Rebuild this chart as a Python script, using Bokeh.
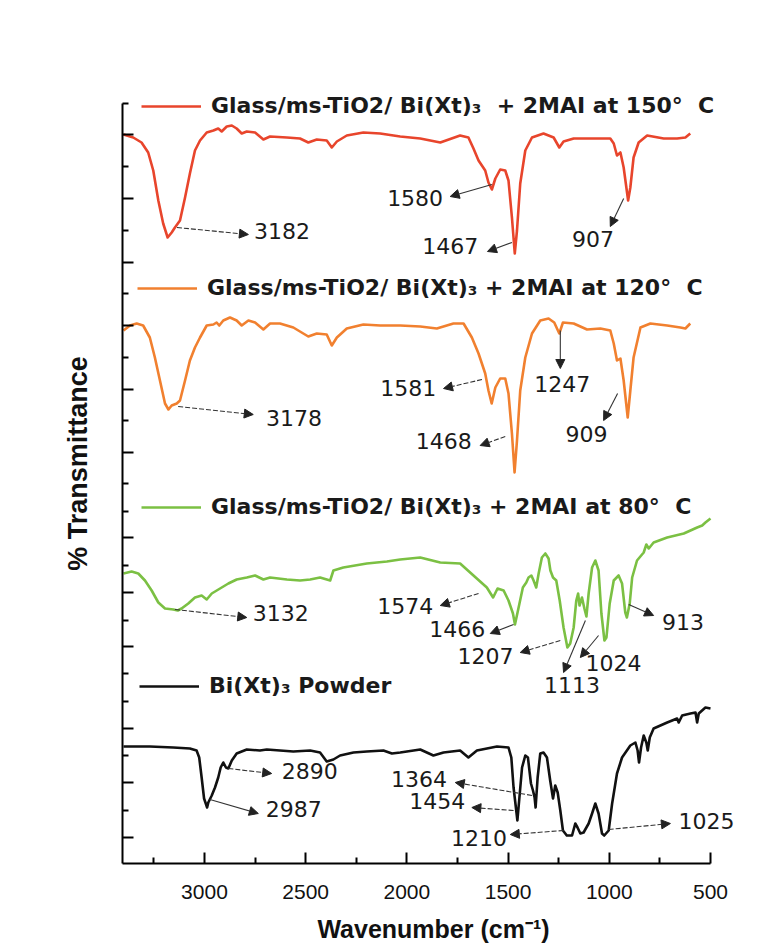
from bokeh.plotting import figure
from bokeh.models import (Range1d, FixedTicker, Label, Arrow, NormalHead,
                          Legend, LegendItem, ColumnDataSource, CustomJSTickFormatter)
from bokeh.embed import file_html
from bokeh.resources import INLINE

# ---------------- data (wavenumber cm-1, transmittance a.u. incl. offset) -------------
red_wn = [3400,3352,3311,3278,3253,3228,3204,3182,3162,3146,3121,3096,3072,3047,3022,2989,2956,2932,2915,2890,
          2865,2841,2816,2791,2750,2709,2676,2593,2528,2487,2445,2396,2371,2346,2297,2215,2132,2033,1934,1835,
          1737,1696,1671,1646,1613,1597,1580,1563,1539,1514,1498,1481,1467,1456,1440,1415,1382,1325,1275,1247,
          1226,1176,1077,995,978,962,945,929,907,896,880,855,813,731,665,624,600]
red_t = [72.9,72.6,72.1,71.1,69.3,66.3,64.0,62.6,63.1,63.6,64.3,66.6,69.0,71.3,72.3,73.1,73.3,73.5,73.2,73.7,
         73.8,73.5,73.0,73.2,73.1,72.4,72.7,72.6,72.5,72.1,72.4,72.3,71.6,72.2,72.8,73.1,73.0,72.7,72.5,72.1,
         72.8,72.6,71.5,70.3,69.3,68.1,67.4,68.5,69.4,69.3,68.3,64.6,61.0,63.3,68.0,71.3,72.6,73.0,72.6,71.6,
         72.2,72.5,72.5,72.5,72.0,70.8,71.1,69.6,66.3,67.6,70.6,72.1,72.8,72.5,72.5,72.6,73.0]

orange_wn = [3400,3368,3335,3303,3270,3245,3220,3195,3178,3162,3137,3121,3096,3072,3047,3022,2989,2956,2940,2927,
             2907,2874,2841,2816,2783,2750,2709,2676,2627,2561,2487,2445,2396,2371,2346,2297,2215,2132,2033,1934,
             1852,1770,1720,1679,1646,1613,1597,1581,1563,1539,1514,1498,1481,1468,1456,1440,1415,1382,1341,1300,
             1272,1247,1229,1176,1110,1044,995,978,962,945,929,909,896,880,846,797,714,649,624,600]
orange_t = [53.3,53.8,54.0,53.8,52.6,50.6,48.3,46.0,45.4,45.8,46.0,46.3,48.3,50.3,51.6,52.6,53.8,53.9,54.1,53.8,
            54.3,54.6,54.3,53.8,54.3,54.1,53.4,54.0,54.0,53.6,52.7,53.0,52.9,51.8,52.6,53.5,53.9,53.8,53.8,53.7,
            53.5,54.0,54.0,52.6,51.0,49.0,47.3,46.0,47.6,48.5,48.5,47.0,43.0,39.1,42.3,47.3,50.6,53.0,54.3,54.5,
            54.1,53.0,54.1,54.0,53.4,53.5,53.3,52.0,50.3,50.5,48.3,44.6,47.3,50.6,53.6,54.0,53.8,53.6,53.5,54.0]

green_wn = [3400,3360,3327,3294,3261,3228,3195,3154,3132,3113,3080,3047,3014,2989,2964,2923,2882,2841,2791,2750,
            2709,2676,2593,2528,2478,2429,2379,2363,2314,2198,2099,2033,1934,1835,1737,1671,1605,1574,1552,1522,
            1498,1476,1466,1448,1427,1410,1399,1385,1374,1361,1349,1333,1316,1300,1291,1278,1262,1245,1226,1207,
            1193,1176,1163,1154,1147,1135,1123,1113,1102,1085,1069,1053,1039,1024,1014,998,978,954,937,921,
            913,899,887,863,830,817,805,781,714,632,566,541,525,500]
green_t = [29.0,29.2,29.0,28.3,27.3,26.1,25.5,25.4,25.3,25.5,26.0,26.6,26.8,26.4,27.0,27.5,28.0,28.4,28.6,28.8,
           28.4,28.6,28.4,28.3,28.4,28.6,28.3,29.3,29.6,30.0,30.2,30.4,30.6,30.1,30.0,28.8,27.6,26.6,27.5,27.3,
           26.3,25.0,23.9,25.6,27.6,28.1,28.6,28.8,28.3,27.6,29.0,30.6,31.0,30.5,29.3,28.6,28.3,26.3,23.6,21.6,
           22.0,23.6,26.3,27.0,25.8,26.6,25.5,24.7,27.0,29.6,30.3,29.3,25.0,22.3,22.6,26.0,28.3,28.8,28.0,25.1,
           24.6,26.0,28.6,30.3,31.1,31.9,31.5,32.1,32.6,33.0,33.6,33.8,34.1,34.5]

black_wn = [3400,3270,3154,3072,3039,3026,3014,3002,2987,2981,2964,2948,2932,2920,2907,2894,2882,2865,2841,2791,
            2726,2692,2627,2561,2478,2429,2396,2363,2330,2264,2198,2116,2074,2033,1934,1869,1819,1737,1696,1654,
            1555,1498,1484,1473,1454,1444,1431,1415,1402,1387,1377,1369,1364,1354,1341,1325,1308,1292,1278,1267,
            1255,1242,1229,1210,1184,1168,1157,1143,1127,1102,1085,1069,1053,1036,1025,1003,986,962,937,896,
            871,860,853,843,830,817,810,800,781,714,665,657,640,599,574,566,558,525,500]
black_t = [11.7,11.7,11.6,11.5,11.3,10.6,8.6,6.5,5.6,6.1,6.8,7.6,8.6,9.6,10.1,9.6,9.5,10.3,11.0,11.4,
           11.3,11.4,11.3,11.2,11.3,11.1,10.2,10.4,10.8,11.1,11.2,11.3,11.0,11.1,11.4,10.8,11.1,11.3,10.6,11.3,
           11.7,11.6,10.6,7.6,4.3,6.6,9.6,10.8,10.6,8.0,7.3,6.6,5.6,8.6,11.0,11.1,10.6,8.3,6.5,7.8,
           7.1,5.3,3.3,2.8,2.8,4.0,3.6,3.0,3.1,4.0,5.0,6.0,5.0,3.0,2.8,3.3,6.0,9.0,10.6,11.8,
           12.1,11.3,10.1,11.6,12.8,12.1,11.3,12.6,13.5,14.1,14.5,14.1,14.8,15.0,15.1,14.1,15.0,15.6,15.5]

series_names = ["Glass/ms-TiO2/ Bi(Xt)\u2083  + 2MAI at 150\u00b0  C",
                "Glass/ms-TiO2/ Bi(Xt)\u2083 + 2MAI at 120\u00b0  C",
                "Glass/ms-TiO2/ Bi(Xt)\u2083 + 2MAI at 80\u00b0  C",
                "Bi(Xt)\u2083 Powder"]

x_major = [3000, 2500, 2000, 1500, 1000, 500]
x_minor = [3250, 2750, 2250, 1750, 1250, 750]

# peak labels: (text, peak wavenumber, transmittance at arrow start)
peak_labels = [
    ("3182", 3136, 63.6), ("1580", 1580, 67.9), ("1467", 1481, 62.1), ("907", 929, 66.5),
    ("3178", 3130, 45.7), ("1581", 1629, 48.4), ("1247", 1242, 53.3), ("1468", 1514, 42.7), ("909", 959, 47.0),
    ("3132", 3146, 25.4), ("1574", 1646, 27.0), ("1466", 1473, 23.9), ("1207", 1242, 22.3),
    ("1113", 1118, 24.3), ("1024", 1053, 22.8), ("913", 904, 25.9),
    ("2890", 2882, 9.5), ("2987", 2973, 6.4), ("1364", 1382, 6.8), ("1454", 1473, 5.3),
    ("1210", 1226, 3.3), ("1025", 1003, 3.4),
]

# ---------------- layout / style -------------
# per label: arrow end (x, y), text anchor (x, y), alignment, dashed
label_layout = [
    (2783, 62.9, 2755, 63.3, "left", True), (1786, 66.7, 1821, 66.6, "right", False),
    (1602, 61.2, 1648, 61.8, "right", False), (995, 63.7, 1081, 62.5, "center", False),
    (2759, 44.9, 2696, 44.55, "left", True), (1819, 47.5, 1855, 47.6, "right", True),
    (1242, 49.5, 1232, 48.0, "center", False), (1638, 41.8, 1679, 42.3, "right", True),
    (1028, 44.3, 1113, 43.0, "center", False),
    (2791, 24.6, 2762, 25.1, "left", True), (1835, 25.8, 1870, 25.8, "right", True),
    (1588, 23.0, 1613, 23.5, "right", False), (1440, 21.1, 1473, 20.8, "right", True),
    (1226, 19.1, 1184, 17.9, "center", False), (1143, 20.6, 1118, 20.1, "left", False),
    (781, 24.8, 739, 24.2, "left", False),
    (2668, 9.0, 2618, 9.3, "left", True), (2734, 5.0, 2697, 5.5, "left", False),
    (1761, 8.1, 1802, 8.5, "right", True), (1679, 5.6, 1712, 6.3, "right", True),
    (1489, 2.9, 1506, 2.6, "right", True), (698, 4.0, 658, 4.3, "left", True),
]

y_major = [72.9, 66.5, 60.1, 53.8, 47.4, 41.1, 32.6, 27.1, 21.7, 13.5, 8.1, 2.6]
y_minor = [76.0, 69.7, 63.3, 57.0, 50.6, 44.3, 38.0, 35.2, 29.8, 24.3, 19.0, 16.2, 10.8, 5.3]

colors = ["#E8452C", "#F1802F", "#7BC043", "#111111"]
legend_locs = [(19, 745), (15, 563), (19, 344), (17, 165)]

p = figure(width=768, height=951, output_backend="svg", toolbar_location=None,
           x_range=Range1d(3405, 332), y_range=Range1d(0, 80),
           min_border_left=122, min_border_right=24, min_border_top=63, min_border_bottom=88)
p.outline_line_color = None
p.grid.visible = False
p.background_fill_color = "white"
p.border_fill_color = "white"

# axes
ax = p.xaxis[0]
ax.bounds = (500, 3405)
ax.ticker = FixedTicker(ticks=x_major, minor_ticks=x_minor)
ax.major_tick_in = 11
ax.major_tick_out = 0
ax.minor_tick_in = 6
ax.minor_tick_out = 0
ax.axis_line_width = 2
ax.major_tick_line_width = 2
ax.minor_tick_line_width = 2
ax.major_label_text_font = "Liberation Sans"
ax.major_label_text_font_size = "21px"
ax.major_label_text_color = "#111111"
ax.major_label_standoff = 21
ax.axis_label = "Wavenumber (cm\u207b\u00b9)"
ax.axis_label_text_font = "Liberation Sans"
ax.axis_label_text_font_size = "25px"
ax.axis_label_text_font_style = "bold"
ax.axis_label_text_color = "#111111"
ax.axis_label_standoff = 13

ay = p.yaxis[0]
ay.bounds = (0, 76)
ay.ticker = FixedTicker(ticks=y_major, minor_ticks=y_minor)
ay.formatter = CustomJSTickFormatter(code="return '';")
ay.major_tick_in = 11
ay.major_tick_out = 0
ay.minor_tick_in = 6
ay.minor_tick_out = 0
ay.axis_line_width = 2
ay.major_tick_line_width = 2
ay.minor_tick_line_width = 2
ay.major_label_standoff = 0
ay.axis_label = "% Transmittance"
ay.axis_label_text_font = "Liberation Sans"
ay.axis_label_text_font_size = "27px"
ay.axis_label_text_font_style = "bold"
ay.axis_label_text_color = "#111111"
ay.axis_label_standoff = 30

# spectra
all_x = [red_wn, orange_wn, green_wn, black_wn]
all_y = [red_t, orange_t, green_t, black_t]
renderers = []
for xs, ys, c in zip(all_x, all_y, colors):
    src = ColumnDataSource(dict(x=xs, y=ys))
    r = p.line("x", "y", source=src, line_color=c, line_width=2.6, line_join="round")
    renderers.append(r)

# legends (one per spectrum, placed above each curve)
for name, r, loc in zip(series_names, renderers, legend_locs):
    leg = Legend(items=[LegendItem(label=name, renderers=[r])], location=loc,
                 border_line_color=None, background_fill_alpha=0, padding=0, margin=0,
                 glyph_width=60, glyph_height=24, label_height=24, label_standoff=10,
                 label_text_font="DejaVu Sans", label_text_font_size="22px",
                 label_text_font_style="bold", label_text_color="#1a1a1a")
    p.add_layout(leg)

# peak annotations
for (txt, px, py), (ex, ey, tx, ty, al, dashed) in zip(peak_labels, label_layout):
    p.add_layout(Arrow(end=NormalHead(size=9, fill_color="#222222", line_color="#222222", line_width=1),
                       x_start=px, y_start=py, x_end=ex, y_end=ey,
                       line_color="#333333", line_width=1.1,
                       line_dash="5 2" if dashed else "solid"))
    p.add_layout(Label(x=tx, y=ty, text=txt, text_align=al, text_baseline="middle",
                       text_font="DejaVu Sans", text_font_size="22px", text_color="#1a1a1a"))

open("out.html", "w").write(file_html(p, INLINE))
